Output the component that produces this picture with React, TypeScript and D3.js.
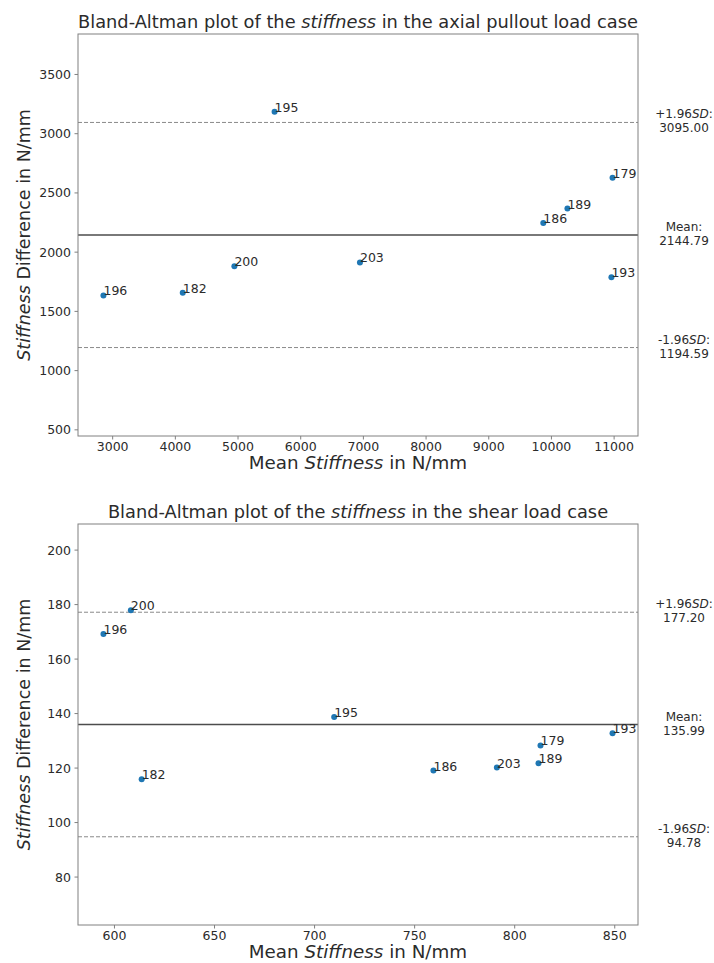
import React from "react";
import * as d3 from "d3";

// Specimen identifiers, one per measured pair
const specimenIds = ["179", "182", "186", "189", "193", "195", "196", "200", "203"];

// Axial pullout load case: mean stiffness (x) and stiffness difference (y), N/mm
const axialMean = [10975, 4118, 9870, 10255, 10957, 5583, 2853, 4942, 6945];
const axialDiff = [2628, 1657, 2247, 2368, 1788, 3186, 1635, 1882, 1913];

// Shear load case
const shearMean = [812.9, 613.6, 759.4, 811.9, 848.9, 709.8, 594.5, 608.2, 791.1];
const shearDiff = [128.3, 115.9, 119.1, 121.8, 132.75, 138.75, 169.2, 177.9, 120.2];

// Limits of agreement: [+1.96 SD, mean, -1.96 SD]
const axialLimits = [3095.0, 2144.79, 1194.59];
const shearLimits = [177.2, 135.99, 94.78];

// Tick values
const axialXTicks = [3000, 4000, 5000, 6000, 7000, 8000, 9000, 10000, 11000];
const axialYTicks = [500, 1000, 1500, 2000, 2500, 3000, 3500];
const shearXTicks = [600, 650, 700, 750, 800, 850];
const shearYTicks = [80, 100, 120, 140, 160, 180, 200];

const W = 714;
const H = 963;
const FONT = "DejaVu Sans, sans-serif";
const TEXT = "#2b2b2b";
const FRAME = "#808080";

type PanelProps = {
  top: number;
  bottom: number;
  caseName: string;
  xs: number[];
  ys: number[];
  limits: number[];
  xTicks: number[];
  yTicks: number[];
};

function Panel({ top, bottom, caseName, xs, ys, limits, xTicks, yTicks }: PanelProps) {
  const left = 78;
  const right = 638;

  const [xMin, xMax] = d3.extent(xs) as [number, number];
  const pad = (xMax - xMin) * 0.05;
  const x = d3.scaleLinear().domain([xMin - pad, xMax + pad]).range([left, right]);

  const [upper, mean, lower] = limits;
  const sd = (upper - mean) / 1.96;
  const y = d3
    .scaleLinear()
    .domain([mean - 3.5 * sd, mean + 3.5 * sd])
    .range([bottom, top]);

  const cx = (left + right) / 2;
  const cy = (top + bottom) / 2;
  const labelX = 684;

  const limitLabel = (value: number, kind: "upper" | "mean" | "lower") => {
    const yy = y(value);
    return (
      <g key={kind} fontSize={12} fill={TEXT}>
        <text x={labelX} y={yy - 4} textAnchor="middle">
          {kind === "mean" ? (
            "Mean:"
          ) : (
            <>
              {kind === "upper" ? "+1.96" : "-1.96"}
              <tspan fontStyle="italic">SD</tspan>:
            </>
          )}
        </text>
        <text x={labelX} y={yy + 10} textAnchor="middle">
          {value.toFixed(2)}
        </text>
      </g>
    );
  };

  return (
    <g fontFamily={FONT}>
      {/* title */}
      <text x={cx} y={top - 6} textAnchor="middle" fontSize={17.8} fill={TEXT}>
        Bland-Altman plot of the <tspan fontStyle="italic">stiffness</tspan> in the {caseName} load case
      </text>

      {/* limit lines */}
      <line x1={left} x2={right} y1={y(upper)} y2={y(upper)} stroke="#8a8a8a" strokeWidth={1} strokeDasharray="4,2" />
      <line x1={left} x2={right} y1={y(lower)} y2={y(lower)} stroke="#8a8a8a" strokeWidth={1} strokeDasharray="4,2" />
      <line x1={left} x2={right} y1={y(mean)} y2={y(mean)} stroke="#4d4d4d" strokeWidth={1.6} />

      {/* points and their identifiers */}
      {xs.map((v, i) => (
        <g key={specimenIds[i]}>
          <circle cx={x(v)} cy={y(ys[i])} r={3} fill="#1f77b4" />
          <text x={x(v)} y={y(ys[i])} fontSize={12.5} fill={TEXT}>
            {specimenIds[i]}
          </text>
        </g>
      ))}

      {/* frame */}
      <rect x={left} y={top} width={right - left} height={bottom - top} fill="none" stroke={FRAME} strokeWidth={1} />

      {/* x axis */}
      {xTicks.map((t) => (
        <g key={"x" + t}>
          <line x1={x(t)} x2={x(t)} y1={bottom} y2={bottom + 3.5} stroke={FRAME} />
          <text x={x(t)} y={bottom + 14.5} textAnchor="middle" fontSize={12.5} fill={TEXT}>
            {t}
          </text>
        </g>
      ))}
      <text x={cx} y={bottom + 33} textAnchor="middle" fontSize={18.3} fill={TEXT}>
        Mean <tspan fontStyle="italic">Stiffness</tspan> in N/mm
      </text>

      {/* y axis */}
      {yTicks.map((t) => (
        <g key={"y" + t}>
          <line x1={left - 3.5} x2={left} y1={y(t)} y2={y(t)} stroke={FRAME} />
          <text x={left - 7} y={y(t) + 4.5} textAnchor="end" fontSize={12.5} fill={TEXT}>
            {t}
          </text>
        </g>
      ))}
      <text
        transform={`translate(30, ${cy}) rotate(-90)`}
        textAnchor="middle"
        fontSize={17.5}
        fill={TEXT}
      >
        <tspan fontStyle="italic">Stiffness</tspan> Difference in N/mm
      </text>

      {/* limit annotations outside the axes */}
      {limitLabel(upper, "upper")}
      {limitLabel(mean, "mean")}
      {limitLabel(lower, "lower")}
    </g>
  );
}

export default function App() {
  return (
    <svg
      width={W}
      height={H}
      viewBox={`0 0 ${W} ${H}`}
      style={{ position: "absolute", left: 0, top: 0, background: "#fff" }}
    >
      <rect width={W} height={H} fill="#fff" />
      <Panel
        top={34}
        bottom={436}
        caseName="axial pullout"
        xs={axialMean}
        ys={axialDiff}
        limits={axialLimits}
        xTicks={axialXTicks}
        yTicks={axialYTicks}
      />
      <Panel
        top={524}
        bottom={925}
        caseName="shear"
        xs={shearMean}
        ys={shearDiff}
        limits={shearLimits}
        xTicks={shearXTicks}
        yTicks={shearYTicks}
      />
    </svg>
  );
}
